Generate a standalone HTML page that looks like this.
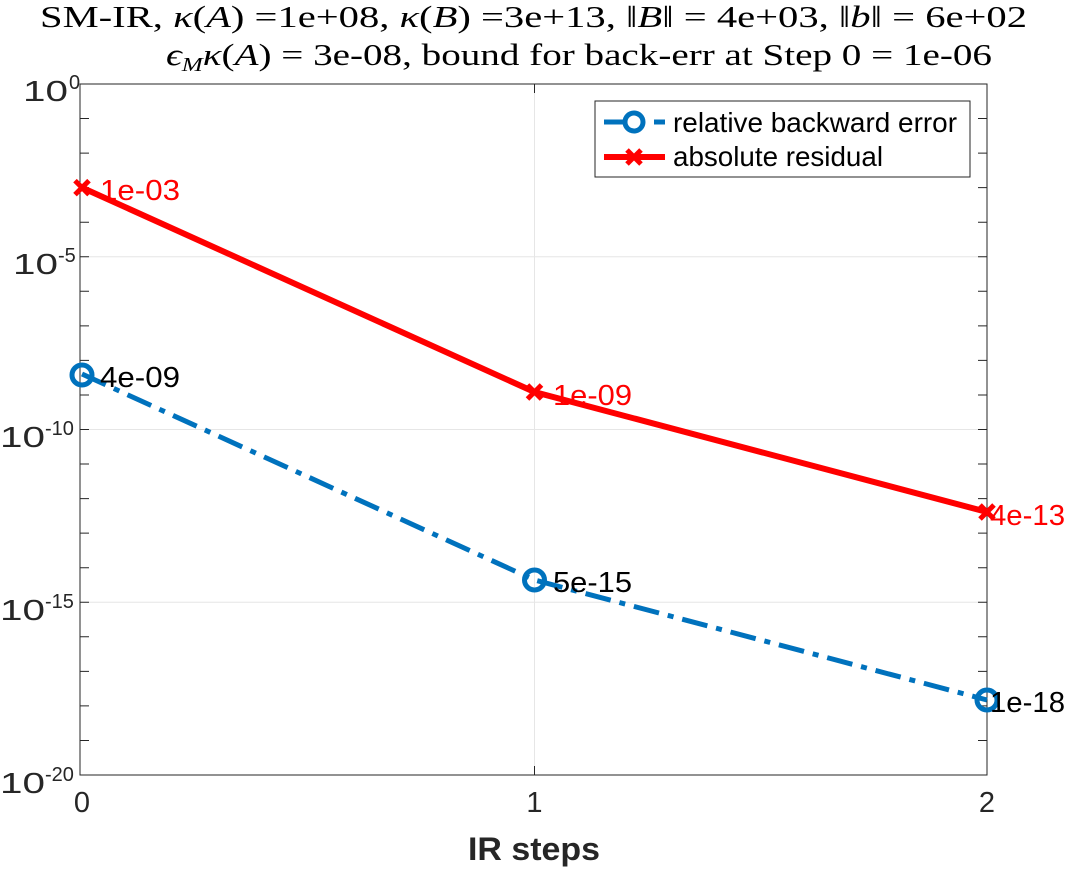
<!DOCTYPE html>
<html><head><meta charset="utf-8"><style>body{margin:0;background:#fff}</style></head><body>
<svg width="1065" height="869" xmlns="http://www.w3.org/2000/svg" font-family="Liberation Sans, sans-serif">
<rect width="1065" height="869" fill="#fff"/>
<g font-family="Liberation Serif, serif" font-size="31" fill="#000">
<text x="40" y="27" textLength="987" lengthAdjust="spacingAndGlyphs">SM-IR, <tspan font-style="italic">κ</tspan>(<tspan font-style="italic">A</tspan>) =1e+08, <tspan font-style="italic">κ</tspan>(<tspan font-style="italic">B</tspan>) =3e+13, ‖<tspan font-style="italic">B</tspan>‖ = 4e+03, ‖<tspan font-style="italic">b</tspan>‖ = 6e+02</text>
<text x="166" y="65" textLength="826" lengthAdjust="spacingAndGlyphs"><tspan font-style="italic">ϵ</tspan><tspan font-style="italic" font-size="20" dy="6">M</tspan><tspan font-style="italic" dy="-6">κ</tspan>(<tspan font-style="italic">A</tspan>) = 3e-08, bound for back-err at Step 0 = 1e-06</text>
</g>
<g stroke="#e6e6e6" stroke-width="1">
<line x1="534.5" y1="84" x2="534.5" y2="775"/>
<line x1="80" y1="256.75" x2="987" y2="256.75"/>
<line x1="80" y1="429.5" x2="987" y2="429.5"/>
<line x1="80" y1="602.25" x2="987" y2="602.25"/>
</g>
<g stroke="#262626" stroke-width="1">
<path d="M80 118.55h9M80 153.1h9M80 187.65h9M80 222.2h9M80 256.75h9M80 291.3h9M80 325.85h9M80 360.4h9M80 394.95h9M80 429.5h9M80 464.05h9M80 498.6h9M80 533.15h9M80 567.7h9M80 602.25h9M80 636.8h9M80 671.35h9M80 705.9h9M80 740.45h9"/>
<path d="M987 118.55h-9M987 153.1h-9M987 187.65h-9M987 222.2h-9M987 256.75h-9M987 291.3h-9M987 325.85h-9M987 360.4h-9M987 394.95h-9M987 429.5h-9M987 464.05h-9M987 498.6h-9M987 533.15h-9M987 567.7h-9M987 602.25h-9M987 636.8h-9M987 671.35h-9M987 705.9h-9M987 740.45h-9"/>
<path d="M534.5 775v-9M534.5 84v9"/>
<rect x="80" y="84" width="907" height="691" fill="none"/>
</g>
<g fill="#262626" font-size="29">
<text x="23" y="101" textLength="45" lengthAdjust="spacingAndGlyphs">10</text><text x="69" y="89" font-size="20">0</text>
<text x="13" y="274" textLength="45" lengthAdjust="spacingAndGlyphs">10</text><text x="58" y="262" font-size="20">-5</text>
<text x="0" y="447" textLength="45" lengthAdjust="spacingAndGlyphs">10</text><text x="45" y="435" font-size="20">-10</text>
<text x="0" y="620" textLength="45" lengthAdjust="spacingAndGlyphs">10</text><text x="45" y="608" font-size="20">-15</text>
<text x="0" y="793" textLength="45" lengthAdjust="spacingAndGlyphs">10</text><text x="45" y="781" font-size="20">-20</text>
<g text-anchor="middle">
<text x="82" y="812">0</text><text x="534.5" y="812">1</text><text x="987" y="812">2</text>
</g>
<text x="468" y="860" font-size="32" font-weight="bold" textLength="132" lengthAdjust="spacingAndGlyphs">IR steps</text>
</g>
<polyline points="82,374 534.5,580 987,700" fill="none" stroke="#0072bd" stroke-width="5" stroke-dasharray="26,9,6,9"/>
<g fill="none" stroke="#0072bd" stroke-width="5">
<circle cx="82" cy="375" r="10"/><circle cx="534.5" cy="580" r="10"/><circle cx="987" cy="700" r="10"/>
</g>
<polyline points="82,187.6 534.5,392 987,512" fill="none" stroke="#ff0000" stroke-width="6"/>
<g stroke="#ff0000" stroke-width="5">
<path d="M75 180.6l14 14M89 180.6l-14 14"/>
<path d="M527.5 385l14 14M541.5 385l-14 14"/>
<path d="M980 505l14 14M994 505l-14 14"/>
</g>
<g font-size="29">
<text x="100" y="200" fill="#ff0000" textLength="80" lengthAdjust="spacingAndGlyphs">1e-03</text>
<text x="553" y="405" fill="#ff0000" textLength="79" lengthAdjust="spacingAndGlyphs">1e-09</text>
<text x="990" y="525" fill="#ff0000" textLength="75" lengthAdjust="spacingAndGlyphs">4e-13</text>
<text x="100" y="387" fill="#000" textLength="80" lengthAdjust="spacingAndGlyphs">4e-09</text>
<text x="553" y="592" fill="#000" textLength="79" lengthAdjust="spacingAndGlyphs">5e-15</text>
<text x="990" y="712" fill="#000" textLength="75" lengthAdjust="spacingAndGlyphs">1e-18</text>
</g>
<rect x="595" y="101" width="375" height="76" fill="#fff" stroke="#262626" stroke-width="1"/>
<line x1="604" y1="122" x2="665" y2="122" stroke="#0072bd" stroke-width="5" stroke-dasharray="26,9,6,9"/>
<circle cx="634" cy="122" r="9" fill="#fff" stroke="#0072bd" stroke-width="5"/>
<line x1="604" y1="157" x2="665" y2="157" stroke="#ff0000" stroke-width="6"/>
<path d="M627 150l14 14M641 150l-14 14" stroke="#ff0000" stroke-width="5"/>
<g font-size="28" fill="#000">
<text x="673" y="132" textLength="284" lengthAdjust="spacingAndGlyphs">relative backward error</text>
<text x="673" y="166" textLength="210" lengthAdjust="spacingAndGlyphs">absolute residual</text>
</g>
</svg>
</body></html>
